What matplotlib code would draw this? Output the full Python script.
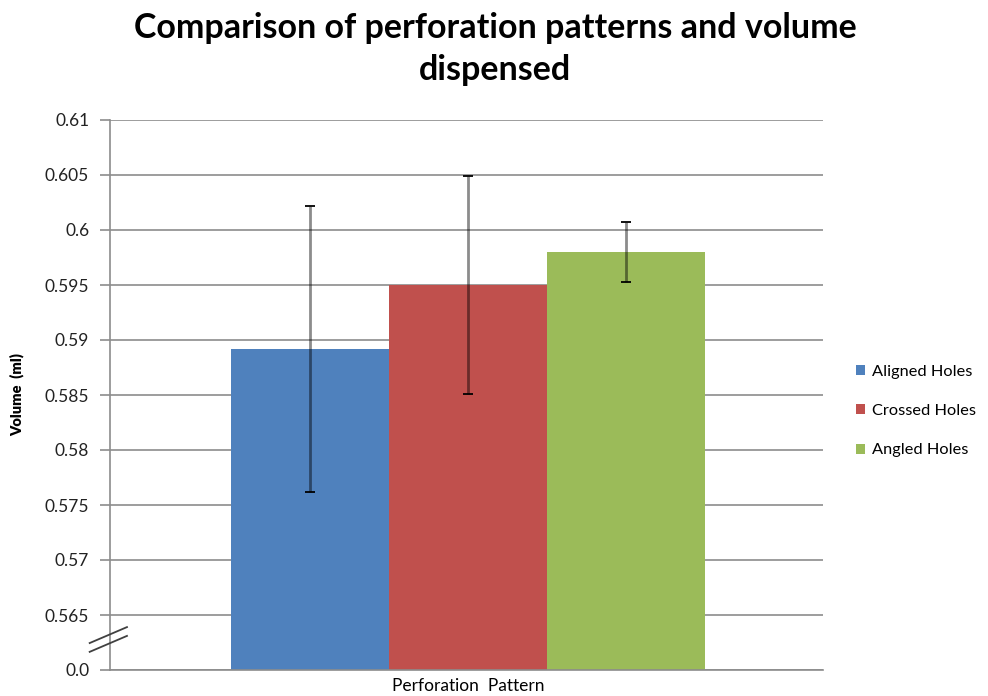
import numpy as np
import matplotlib
matplotlib.use('Agg')
import matplotlib.pyplot as plt

plt.rcParams['font.family'] = ['Lato', 'DejaVu Sans']

# data
categories = ['Aligned Holes', 'Crossed Holes', 'Angled Holes']
means = [0.5892, 0.5950, 0.5980]
errors = [0.0130, 0.0099, 0.0027]
colors = ['#4F81BD', '#C0504D', '#9BBB59']
y_ticks = [0.56, 0.565, 0.57, 0.575, 0.58, 0.585, 0.59, 0.595, 0.6, 0.605, 0.61]
y_tick_labels = ['0.0', '0.565', '0.57', '0.575', '0.58', '0.585', '0.59', '0.595', '0.6', '0.605', '0.61']

fig = plt.figure(figsize=(9.88, 6.96), dpi=100)
ax = fig.add_axes([110 / 988, 26 / 696, 713 / 988, 550 / 696])

width = 0.2216
x = (np.arange(len(categories)) - 1) * width + 0.002
for i in range(len(categories)):
    ax.bar(x[i], means[i] - 0.56, bottom=0.56, width=width, color=colors[i],
           label=categories[i], zorder=2)
# error bars: translucent line, solid caps
ax.errorbar(x, means, yerr=errors, fmt='none', ecolor='black', elinewidth=2.0,
            capsize=0, alpha=0.45, zorder=3)
ax.errorbar(x, means, yerr=errors, fmt='none', ecolor='black', elinewidth=0,
            capsize=3.6, capthick=1.3, zorder=4)

ax.set_xlim(-0.5, 0.5)
ax.set_ylim(0.56, 0.61)
ax.set_yticks(y_ticks)
ax.set_yticklabels(y_tick_labels, fontsize=12.5, color='#222222')
ax.set_xticks([])
ax.yaxis.grid(True, color='#8c8c8c', linewidth=1.2, zorder=0)
ax.set_axisbelow(True)
for s in ['top', 'right']:
    ax.spines[s].set_visible(False)
for s in ['left', 'bottom']:
    ax.spines[s].set_color('#8c8c8c')
    ax.spines[s].set_linewidth(1.2)
ax.tick_params(axis='y', length=7, width=1.2, color='#8c8c8c', pad=8)

# axis break marks
for dy in (0.0, 0.016):
    ax.plot([-0.0285, 0.0238], [0.033 + dy, 0.062 + dy], transform=ax.transAxes,
            color='#404040', linewidth=1.3, clip_on=False, zorder=5)

ax.set_ylabel('Volume  (ml)', fontsize=10.5, fontweight='heavy')
ax.yaxis.set_label_coords(-0.121, 0.5)
fig.text(468 / 988, 1 - 686 / 696, 'Perforation  Pattern', fontsize=12.5,
         ha='center', va='center')

fig.suptitle('Comparison of perforation patterns and volume\ndispensed',
             x=495 / 988, y=1 - 12 / 696, fontsize=24.5, fontweight='bold',
             va='top', linespacing=1.4)

ax.legend(loc='center left', bbox_to_anchor=(856 / 988, 1 - 411 / 696),
          bbox_transform=fig.transFigure, frameon=False, fontsize=11.8,
          borderpad=0, borderaxespad=0,
          handlelength=0.55, handleheight=0.55, handletextpad=0.4,
          labelspacing=1.55)

fig.savefig('out.png', dpi=100)
